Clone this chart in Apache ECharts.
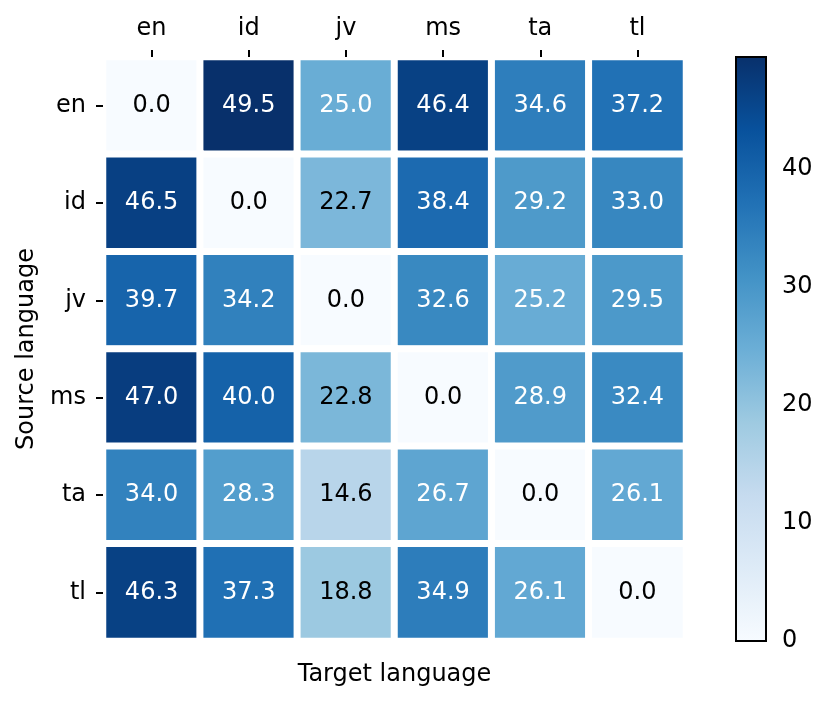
<!DOCTYPE html>
<html>
<head>
<meta charset="utf-8">
<script src="https://cdn.jsdelivr.net/npm/echarts@6/dist/echarts.min.js"></script>
<style>
	html, body { margin: 0; padding: 0; background: #fff; }
	#main { width: 830px; height: 705px; }
</style>
</head>
<body>
<div id="main"></div>
<script>
// languages on both axes
var langs = ['en', 'id', 'jv', 'ms', 'ta', 'tl'];
// one row per source language, columns = target language
var rowEn = [0.0, 49.5, 25.0, 46.4, 34.6, 37.2];
var rowId = [46.5, 0.0, 22.7, 38.4, 29.2, 33.0];
var rowJv = [39.7, 34.2, 0.0, 32.6, 25.2, 29.5];
var rowMs = [47.0, 40.0, 22.8, 0.0, 28.9, 32.4];
var rowTa = [34.0, 28.3, 14.6, 26.7, 0.0, 26.1];
var rowTl = [46.3, 37.3, 18.8, 34.9, 26.1, 0.0];
var colorbarTicks = [0, 10, 20, 30, 40];

var rows = [rowEn, rowId, rowJv, rowMs, rowTa, rowTl];
var vMin = 0, vMax = 49.5;
// matplotlib Blues
var blues = ['#f7fbff', '#deebf7', '#c6dbef', '#9ecae1', '#6baed6', '#4292c6', '#2171b5', '#08519c', '#08306b'];

var data = [];
for (var r = 0; r < rows.length; r++) {
	for (var c = 0; c < rows[r].length; c++) {
		// white text on dark cells
		data.push({
			value: [c, r, rows[r][c]],
			label: { color: rows[r][c] > (vMax - vMin) / 2 - 1 ? '#fff' : '#000' }
		});
	}
}

var font = 'DejaVu Sans';
var fs = 24;
// colorbar box
var cb = { left: 736, top: 57, width: 30, height: 584 };

var stops = [];
for (var i = 0; i < blues.length; i++) {
	stops.push({ offset: i / (blues.length - 1), color: blues[blues.length - 1 - i] });
}

var chart = echarts.init(document.getElementById('main'));
chart.setOption({
	backgroundColor: '#fff',
	animation: false,
	textStyle: { fontFamily: font },
	grid: [
		{ left: 103, top: 57, width: 583, height: 584 },
		{ left: cb.left, top: cb.top, width: cb.width, height: cb.height }
	],
	xAxis: [{
		type: 'category', gridIndex: 0, position: 'top', data: langs, z: 5,
		axisLine: { show: false },
		axisTick: { show: true, alignWithLabel: true, length: 7, lineStyle: { color: '#000', width: 2 } },
		axisLabel: { color: '#000', fontSize: fs, fontFamily: font, margin: 16 },
		splitLine: { show: false }
	}, {
		type: 'category', gridIndex: 0, position: 'bottom', data: langs,
		axisLine: { show: false }, axisTick: { show: false }, axisLabel: { show: false },
		name: 'Target language', nameLocation: 'middle', nameGap: 22,
		nameTextStyle: { color: '#000', fontSize: fs, fontFamily: font }
	}, {
		type: 'value', gridIndex: 1, show: false, min: 0, max: 1
	}],
	yAxis: [{
		type: 'category', gridIndex: 0, data: langs, inverse: true, z: 5,
		axisLine: { show: false },
		axisTick: { show: true, alignWithLabel: true, length: 7, lineStyle: { color: '#000', width: 2 } },
		axisLabel: { color: '#000', fontSize: fs, fontFamily: font, margin: 17 },
		name: 'Source language', nameLocation: 'middle', nameGap: 64, nameRotate: 90,
		nameTextStyle: { color: '#000', fontSize: fs, fontFamily: font },
		splitLine: { show: false }
	}, {
		type: 'value', gridIndex: 1, position: 'right', min: vMin, max: vMax,
		axisLine: { show: false },
		axisTick: { show: true, length: 8, customValues: colorbarTicks, lineStyle: { color: '#000', width: 2 } },
		axisLabel: { color: '#000', fontSize: fs, fontFamily: font, margin: 16, customValues: colorbarTicks },
		splitLine: { show: false }
	}],
	visualMap: {
		show: false, type: 'continuous', min: vMin, max: vMax, seriesIndex: 0,
		inRange: { color: blues }
	},
	graphic: [{
		type: 'rect', z: 10,
		shape: { x: cb.left, y: cb.top, width: cb.width, height: cb.height },
		style: {
			fill: { type: 'linear', x: 0, y: 0, x2: 0, y2: 1, colorStops: stops },
			stroke: '#000', lineWidth: 2
		}
	}],
	series: [{
		type: 'heatmap', xAxisIndex: 0, yAxisIndex: 0, data: data, z: 2,
		itemStyle: { borderColor: '#fff', borderWidth: 7 },
		label: {
			show: true, fontSize: fs, fontFamily: font,
			formatter: function(p) { return p.value[2].toFixed(1); }
		},
		emphasis: { disabled: true }
	}]
});
</script>
</body>
</html>
